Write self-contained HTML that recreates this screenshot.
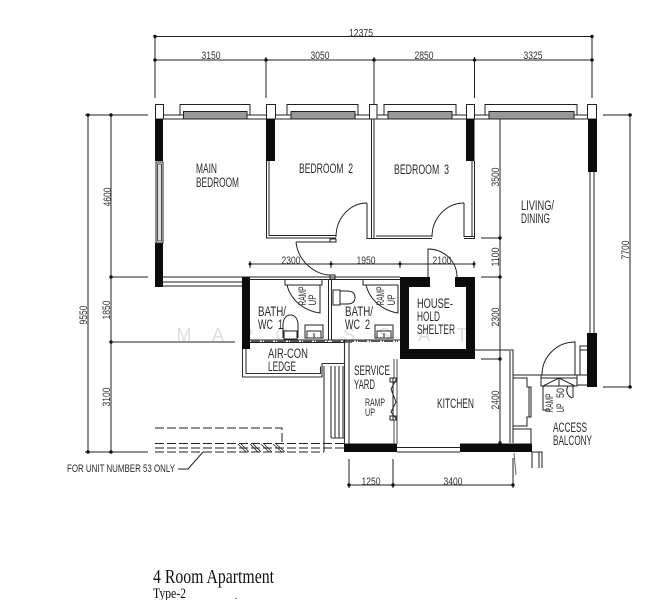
<!DOCTYPE html>
<html>
<head>
<meta charset="utf-8">
<style>
html,body{margin:0;padding:0;background:#fff;width:664px;height:600px;overflow:hidden}
svg{display:block}
text{font-family:"Liberation Sans",sans-serif;fill:#2a2a2a}
.d{font-size:11px;text-anchor:middle;fill:#333}
.l{font-size:13.5px;fill:#2a2a2a}
.w{font-size:18px;fill:#dedede;text-anchor:middle}
</style>
</head>
<body>
<svg width="664" height="600" viewBox="0 0 664 600" xmlns="http://www.w3.org/2000/svg">
<rect width="664" height="600" fill="#fff"/>

<!-- watermark -->
<g>
<text class="w" x="184" y="341">M</text><text class="w" x="218" y="341">A</text><text class="w" x="247" y="341">R</text>
<text class="w" x="282" y="341">C</text><text class="w" x="349" y="341">S</text><text class="w" x="384" y="341">S</text>
<text class="w" x="424" y="341">A</text><text class="w" x="462" y="341">T</text>
</g>

<!-- dimension lines -->
<g stroke="#222" stroke-width="1" fill="none">
<path d="M155 36.5H592M155 60H592M155 36V98M266 57V98M474.5 57V98M592 36V98"/>
<path d="M374 57V105" stroke="#777" stroke-width="1.6"/>
<path d="M85 115H148M85 452H148M110 277H148M110 342H235M88 115V452M111 115V452"/>
<path d="M250 264H474M250 261V268M331 261V268M400 261V268M474 261V268"/>
<path d="M500 115V444M481 238H500M481 277H500M481 359H500"/>
<path d="M603 115H632M630 115V387M603 387H632"/>
<path d="M349 485H513M349 459V488M393 459V488M513 458V488"/>
</g>
<g fill="#111">
<circle cx="155" cy="36.5" r="1.7"/><circle cx="592" cy="36.5" r="1.7"/>
<circle cx="155" cy="60" r="1.7"/><circle cx="266" cy="60" r="1.7"/><circle cx="374" cy="60" r="1.7"/><circle cx="474.5" cy="60" r="1.7"/><circle cx="592" cy="60" r="1.7"/>
<circle cx="88" cy="115" r="1.7"/><circle cx="111" cy="115" r="1.7"/><circle cx="111" cy="277" r="1.7"/><circle cx="111" cy="342" r="1.7"/><circle cx="88" cy="452" r="1.7"/><circle cx="111" cy="452" r="1.7"/>
<circle cx="250" cy="264" r="1.5"/><circle cx="331" cy="264" r="1.5"/><circle cx="400" cy="264" r="1.5"/><circle cx="474" cy="264" r="1.5"/>
<circle cx="500" cy="115" r="1.7"/><circle cx="500" cy="238" r="1.7"/><circle cx="500" cy="277" r="1.7"/><circle cx="500" cy="359" r="1.7"/><circle cx="500" cy="443" r="1.7"/>
<circle cx="630" cy="115" r="1.7"/><circle cx="630" cy="387" r="1.7"/>
<circle cx="349" cy="485" r="1.7"/><circle cx="393" cy="485" r="1.7"/><circle cx="513" cy="485" r="1.7"/>
</g>

<!-- top wall -->
<g stroke="#222" stroke-width="1" fill="#fff">
<path d="M163 115H587M163 119H587" fill="none"/>
<rect x="155.500" y="104.500" width="8" height="14.500"/>
<rect x="266.500" y="104.500" width="9" height="14.500"/>
<rect x="369.500" y="104.500" width="7.500" height="14.500"/>
<rect x="466.500" y="104.500" width="8" height="14.500"/>
<rect x="587.500" y="104.500" width="9" height="14.500"/>
</g>
<!-- windows -->
<g fill="none" stroke="#222" stroke-width="1">
<path d="M180 115V104.500H250V115M287 115V104.500H358V115M384 115V104.500H456V115M485 115V104.500H577V115"/>
</g>
<g fill="#999" stroke="#222" stroke-width="1">
<rect x="183.500" y="111.500" width="63.500" height="7.500"/>
<rect x="291" y="111.500" width="64" height="7.500"/>
<rect x="388" y="111.500" width="64" height="7.500"/>
<rect x="489" y="111.500" width="85" height="7.500"/>
</g>

<!-- black columns -->
<g fill="#0c0c0c">
<rect x="155" y="119" width="8" height="42"/>
<rect x="155" y="243" width="8" height="44"/>
<rect x="266" y="119" width="9" height="42"/>
<rect x="466" y="119" width="8.500" height="42"/>
<rect x="588" y="119" width="9" height="53"/>
<rect x="587" y="333" width="10" height="54"/>
<rect x="242" y="277" width="8" height="72"/>
<rect x="344" y="443.500" width="53" height="8.500"/>
<rect x="460" y="443.500" width="72" height="8.500"/>
<rect x="343" y="340" width="9" height="2.500"/>
<path fill-rule="evenodd" d="M400 277H430V287H409V349H466V287H455V277H475V359H400Z"/>
</g>
<!-- left window -->
<rect x="156" y="162" width="7" height="81" fill="#fff" stroke="#222" stroke-width="1"/>
<rect x="157.500" y="164" width="4" height="77" fill="#ddd" stroke="#222" stroke-width="0.8"/>

<!-- walls -->
<g fill="none" stroke="#222" stroke-width="1">
<path d="M266.500 161V238H336M269 161V235.500H336"/>
<path d="M371.500 119V238M374 119V238M367 236V238.500H374M374 238.500H432M376 236H432"/>
<path d="M464 203V236.500H474.500M472 161V236M474.500 161V238.500H464"/>
<path d="M367 203V236"/>
<path d="M590 172V333M594 172V333"/>
<path d="M336 237A31 34 0 0 1 367 203"/>
<path d="M432 237A32 34 0 0 1 464 203"/>
<path d="M330 239H336V242H330Z M330 275H335V279H330Z"/>
<path d="M296 242H330M296 242C298 262 316 275 330 275"/>
<path d="M428 277V249A29 28 0 0 1 457 277"/>
<path d="M163 277H400M163 282H242M163 286H242M250 279.500H400"/>
<path d="M328.500 279V340M331.500 279V340"/>
<path d="M250 340H400M250 342.500H344"/>
</g>

<!-- air-con ledge -->
<g fill="none" stroke="#333" stroke-width="1.100">
<path d="M242.500 349V377H322V363.500H344M246 349V373.500H320.500V366.500"/>
<path d="M324 366V452M331 366V438M335 366V438M339 366V438M343 366V438M331 438H344"/>
<path d="M344.500 342V444M349 342V444"/>
</g>

<!-- bath details -->
<g fill="none" stroke="#222" stroke-width="1">
<path d="M285 279V285H322V279M287 285H320M287 285C291 301 305 311 320 313V285"/>
<path d="M363 279V285H398M366 285C370 301 384 311 398 313V285"/>
<path d="M283 338V325C283 319 286 315 290.500 315C295 315 298 319 298 325V338"/>
<path d="M284 331H297V339H284Z" fill="#fff"/>
<path d="M305 338V325H323V338ZM307 331H321V338H307ZM314 333V338"/>
<path d="M333 290H340V305H333ZM340 291H347C353 291 355 294 355 297.500C355 301 353 304 347 304H340"/>
<path d="M375 338V325H393V338ZM377 331H391V338H377ZM384 333V338"/>
</g>
<g stroke="#555" stroke-width="2" stroke-dasharray="9 2 1 1" fill="none"><path d="M251 341H328M332 341H398"/></g>

<!-- kitchen -->
<g fill="none" stroke="#222" stroke-width="1">
<path d="M475 350H513V375H541M510 351V443M513 350V443"/>
<path d="M394 359V378M397 359V444M394 420V444" stroke="#666" stroke-width="1.200"/>
<path d="M397 447.500H460M397 452H460"/>
<path d="M393 378V420M397 378L391 389 396 402 391 412 397 420M390 378H396V382H390ZM390 416H396V420H390Z"/>
<path d="M513 378H527V387H531V417H527V426H513M513 429H531V445M529 387V417"/>
<path d="M532 452H542V468M532 452V468M539 452V468"/>
<path d="M514 453L516 475" stroke="#666"/>
<path d="M541 375H577V386H541ZM541 378H577M559 378L543 386M559 378L575 386M559 378V386"/>
<path d="M542 375A33 33 0 0 1 575 342V375"/>
<path d="M543 386V410H550"/>
<path d="M577 375H587M577 385H587M580 375V346H587M580 350H587"/>
<path d="M568 386C565 392 568 396 572 398M573 386V398"/>
</g>

<!-- dashed lower left -->
<g fill="none" stroke="#222" stroke-width="1" stroke-dasharray="9 3">
<path d="M155 428H282V443"/>
<path d="M155 443.500H344M155 448H344M155 452H324"/>
</g>
<g fill="none" stroke="#222" stroke-width="1">
<path d="M238 444L246 452M250 444L258 452M261 444L269 452M273 444L282 452M241 444L249 452M253 444L261 452M264 444L272 452M276 444L285 452" stroke-width="0.800"/>
<path d="M203 452L188 469H178"/>
</g>

<!-- dimension text -->
<text class="d" x="361" y="36.500" textLength="24" lengthAdjust="spacingAndGlyphs">12375</text>
<text class="d" x="211" y="59" textLength="19" lengthAdjust="spacingAndGlyphs">3150</text>
<text class="d" x="320" y="59" textLength="19" lengthAdjust="spacingAndGlyphs">3050</text>
<text class="d" x="424" y="59" textLength="19" lengthAdjust="spacingAndGlyphs">2850</text>
<text class="d" x="533" y="59" textLength="19" lengthAdjust="spacingAndGlyphs">3325</text>
<text class="d" x="291" y="264" textLength="19" lengthAdjust="spacingAndGlyphs">2300</text>
<text class="d" x="366" y="264" textLength="19" lengthAdjust="spacingAndGlyphs">1950</text>
<text class="d" x="442" y="264" textLength="19" lengthAdjust="spacingAndGlyphs">2100</text>
<text class="d" x="371" y="485" textLength="19" lengthAdjust="spacingAndGlyphs">1250</text>
<text class="d" x="453" y="485" textLength="19" lengthAdjust="spacingAndGlyphs">3400</text>
<text class="d" transform="translate(111 197) rotate(-90)" textLength="19" lengthAdjust="spacingAndGlyphs">4600</text>
<text class="d" transform="translate(87 315) rotate(-90)" textLength="19" lengthAdjust="spacingAndGlyphs">9550</text>
<text class="d" transform="translate(110 310) rotate(-90)" textLength="19" lengthAdjust="spacingAndGlyphs">1850</text>
<text class="d" transform="translate(110 397) rotate(-90)" textLength="19" lengthAdjust="spacingAndGlyphs">3100</text>
<text class="d" transform="translate(499 177) rotate(-90)" textLength="19" lengthAdjust="spacingAndGlyphs">3500</text>
<text class="d" transform="translate(499 257) rotate(-90)" textLength="19" lengthAdjust="spacingAndGlyphs">1100</text>
<text class="d" transform="translate(499 317) rotate(-90)" textLength="19" lengthAdjust="spacingAndGlyphs">2300</text>
<text class="d" transform="translate(499 400) rotate(-90)" textLength="19" lengthAdjust="spacingAndGlyphs">2400</text>
<text class="d" transform="translate(629 250) rotate(-90)" textLength="19" lengthAdjust="spacingAndGlyphs">7700</text>

<!-- room labels -->
<text class="l" x="196" y="173" textLength="21" lengthAdjust="spacingAndGlyphs">MAIN</text>
<text class="l" x="196" y="187" textLength="43" lengthAdjust="spacingAndGlyphs">BEDROOM</text>
<text class="l" x="299" y="173" textLength="54" lengthAdjust="spacingAndGlyphs">BEDROOM&#160;&#160;2</text>
<text class="l" x="394" y="174" textLength="55" lengthAdjust="spacingAndGlyphs">BEDROOM&#160;&#160;3</text>
<text class="l" x="521" y="210" textLength="33" lengthAdjust="spacingAndGlyphs">LIVING/</text>
<text class="l" x="521" y="223" textLength="29" lengthAdjust="spacingAndGlyphs">DINING</text>
<text class="l" x="417" y="308" textLength="36" lengthAdjust="spacingAndGlyphs">HOUSE-</text>
<text class="l" x="417" y="321" textLength="23" lengthAdjust="spacingAndGlyphs">HOLD</text>
<text class="l" x="417" y="334" textLength="38" lengthAdjust="spacingAndGlyphs">SHELTER</text>
<text class="l" x="437" y="408" textLength="37" lengthAdjust="spacingAndGlyphs">KITCHEN</text>
<text class="l" x="354" y="375" textLength="36" lengthAdjust="spacingAndGlyphs">SERVICE</text>
<text class="l" x="354" y="389" textLength="21" lengthAdjust="spacingAndGlyphs">YARD</text>
<text class="d" x="375" y="406" textLength="20" lengthAdjust="spacingAndGlyphs">RAMP</text>
<text class="d" x="370" y="416" textLength="10" lengthAdjust="spacingAndGlyphs">UP</text>
<text class="l" x="553" y="432" textLength="34" lengthAdjust="spacingAndGlyphs">ACCESS</text>
<text class="l" x="553" y="445" textLength="39" lengthAdjust="spacingAndGlyphs">BALCONY</text>
<text class="l" x="258" y="316" textLength="28" lengthAdjust="spacingAndGlyphs">BATH/</text>
<text class="l" x="258" y="329" textLength="25" lengthAdjust="spacingAndGlyphs">WC&#160;&#160;1</text>
<text class="l" x="345" y="316" textLength="28" lengthAdjust="spacingAndGlyphs">BATH/</text>
<text class="l" x="345" y="329" textLength="25" lengthAdjust="spacingAndGlyphs">WC&#160;&#160;2</text>
<text class="l" x="268" y="358" textLength="40" lengthAdjust="spacingAndGlyphs">AIR-CON</text>
<text class="l" x="268" y="371" textLength="28" lengthAdjust="spacingAndGlyphs">LEDGE</text>
<text class="d" transform="translate(306 296) rotate(-90)" textLength="19" lengthAdjust="spacingAndGlyphs">RAMP</text>
<text class="d" transform="translate(316 300) rotate(-90)" textLength="11" lengthAdjust="spacingAndGlyphs">UP</text>
<text class="d" transform="translate(384 296) rotate(-90)" textLength="19" lengthAdjust="spacingAndGlyphs">RAMP</text>
<text class="d" transform="translate(395 300) rotate(-90)" textLength="11" lengthAdjust="spacingAndGlyphs">UP</text>
<text class="d" transform="translate(553 403) rotate(-90)" textLength="19" lengthAdjust="spacingAndGlyphs">RAMP</text>
<text class="d" transform="translate(564 408) rotate(-90)" textLength="9" lengthAdjust="spacingAndGlyphs">UP</text>
<text class="d" transform="translate(564 393) rotate(-90)" textLength="10" lengthAdjust="spacingAndGlyphs">50</text>
<text x="67" y="472" font-size="11" textLength="108" lengthAdjust="spacingAndGlyphs">FOR UNIT NUMBER 53 ONLY</text>

<!-- title -->
<text x="153" y="583" font-size="20" textLength="121" lengthAdjust="spacingAndGlyphs" style="font-family:'Liberation Serif',serif;fill:#111">4 Room Apartment</text>
<text x="153" y="598" font-size="15" textLength="33" lengthAdjust="spacingAndGlyphs" style="font-family:'Liberation Serif',serif;fill:#111">Type-2</text>
<rect x="235" y="598" width="2" height="1" fill="#888"/>
</svg>
</body>
</html>
